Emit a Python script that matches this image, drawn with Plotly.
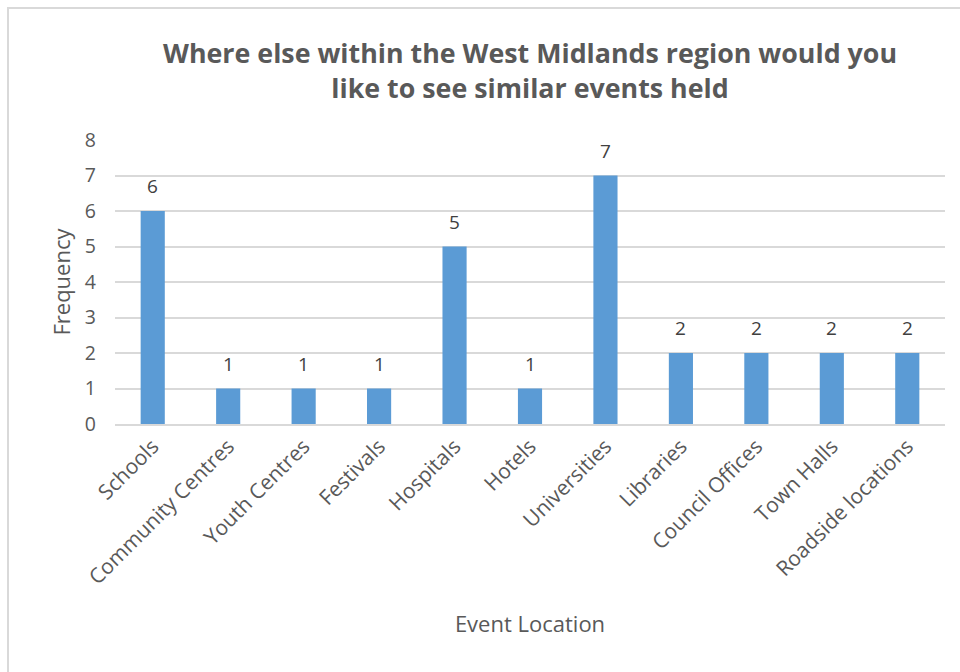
import plotly.graph_objects as go

categories = ["Schools", "Community Centres", "Youth Centres", "Festivals", "Hospitals",
              "Hotels", "Universities", "Libraries", "Council Offices", "Town Halls",
              "Roadside locations"]
frequency = [6, 1, 1, 1, 5, 1, 7, 2, 2, 2, 2]

FONT = "Open Sans"
GREY = "#595959"

L, R, T, B = 115, 15, 140, 248
W, H = 960, 672
pw, ph = W - L - R, H - T - B

fig = go.Figure(go.Bar(
    x=categories, y=frequency,
    marker=dict(color="#5B9BD5", line=dict(width=0)),
    hoverinfo="x+y",
))

annotations = [
    dict(x=c, y=v, xref="x", yref="y", text=str(v), showarrow=False,
         yanchor="middle", yshift=25,
         font=dict(family=FONT, size=19, color="#404040"))
    for c, v in zip(categories, frequency)
]

fig.update_layout(
    width=W, height=H,
    margin=dict(l=L, r=R, t=T, b=B),
    paper_bgcolor="white", plot_bgcolor="white",
    bargap=0.68,
    showlegend=False,
    title=dict(
        text="<b>Where else within the West Midlands region would you<br>like to see similar events held</b>",
        x=530 / W, xanchor="center", y=1 - 63 / H, yanchor="middle",
        font=dict(family=FONT, size=26.8, color=GREY),
    ),
    xaxis=dict(
        tickangle=-45, tickfont=dict(family=FONT, size=21, color=GREY),
        showgrid=False, showline=True, linecolor="#D9D9D9", linewidth=1.5,
        ticks="", title=dict(text="Event Location", font=dict(family=FONT, size=22, color=GREY), standoff=28),
    ),
    yaxis=dict(
        range=[0, 8], dtick=1, tickfont=dict(family=FONT, size=19.5, color=GREY),
        showgrid=True, gridcolor="#D9D9D9", gridwidth=1.5, zeroline=False,
        showline=False, ticks="", ticklabelstandoff=18,
        title=dict(text="Frequency", font=dict(family=FONT, size=22, color=GREY), standoff=8),
    ),
    annotations=annotations,
    shapes=[dict(
        type="rect", xref="paper", yref="paper",
        x0=(8 - L) / pw, x1=(W + 30 - L) / pw,
        y0=(H - B - (H + 30)) / ph, y1=(H - B - 8) / ph,
        line=dict(color="#D9D9D9", width=2), fillcolor="rgba(0,0,0,0)", layer="below",
    )],
)

fig.write_html("out.html")
